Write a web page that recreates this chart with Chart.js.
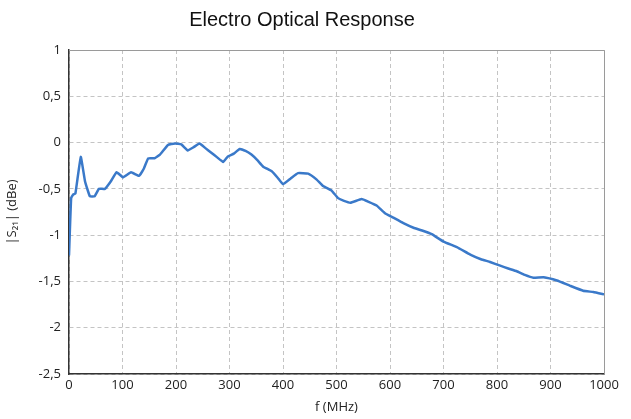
<!DOCTYPE html>
<html>
<head>
<meta charset="utf-8">
<script src="https://cdn.jsdelivr.net/npm/chart.js@4"></script>
<style>
  html, body { margin: 0; padding: 0; background: #fff; }
  #wrap { width: 631px; height: 419px; }
</style>
</head>
<body>
<div id="wrap"><canvas id="chart" width="631" height="419"></canvas></div>
<script>
// frequency (MHz) and |S21| (dBe)
const freq = [0, 4, 8, 12, 22, 30, 39, 48, 56, 67, 78, 89, 101, 116, 131, 140, 148, 160, 170, 185,
    198, 210, 222, 233, 244, 255, 266, 277, 288, 297, 308, 319, 330, 341, 352, 363, 379, 390, 400, 414,
    428, 447, 463, 475, 491, 503, 514, 526, 547, 560, 575, 590, 606, 625, 644, 660, 678, 700, 725, 750,
    770, 787, 806, 821, 837, 852, 868, 887, 912, 936, 961, 980, 1000];
const s21 = [-1.22, -0.6, -0.56, -0.55, -0.155, -0.42, -0.58, -0.58, -0.5, -0.5, -0.42, -0.32, -0.375, -0.32, -0.36, -0.28, -0.17, -0.17, -0.13, -0.025,
    -0.01, -0.02, -0.085, -0.05, -0.01, -0.06, -0.11, -0.16, -0.21, -0.15, -0.12, -0.07, -0.09, -0.13, -0.19, -0.26, -0.31, -0.38, -0.45, -0.39,
    -0.33, -0.335, -0.40, -0.47, -0.52, -0.60, -0.63, -0.65, -0.61, -0.64, -0.68, -0.76, -0.81, -0.87, -0.92, -0.95, -0.99, -1.07, -1.13, -1.21,
    -1.26, -1.29, -1.33, -1.36, -1.39, -1.43, -1.46, -1.455, -1.49, -1.545, -1.60, -1.615, -1.64];

const xTicks = [0, 100, 200, 300, 400, 500, 600, 700, 800, 900, 1000];
const yTicks = [1, 0.5, 0, -0.5, -1, -1.5, -2, -2.5];

const tickFont = { family: 'Open Sans', size: 13 };

// light frame on top and right of the plot
const frame = {
    id: 'frame',
    afterDraw(chart){
        const a = chart.chartArea, c = chart.ctx;
        c.save();
        c.strokeStyle = '#9a9a9a';
        c.lineWidth = 1;
        c.beginPath();
        c.moveTo(a.left, a.top + 0.5);
        c.lineTo(a.right + 0.5, a.top + 0.5);
        c.lineTo(a.right + 0.5, a.bottom);
        c.stroke();
        c.restore();
    }
};

new Chart(document.getElementById('chart'), {
    type: 'line',
    data: {
        datasets: [{
            label: '|S21|',
            data: freq.map((f, i) => ({ x: f, y: s21[i] })),
            borderColor: '#3a79c9',
            borderWidth: 2.5,
            pointRadius: 0,
            tension: 0.1,
            fill: false
        }]
    },
    options: {
        responsive: false,
        animation: false,
        layout: { padding: { top: 8, right: 27, left: 0, bottom: 0 } },
        plugins: {
            legend: { display: false },
            tooltip: { enabled: false },
            title: {
                display: true,
                text: 'Electro Optical Response',
                color: '#111',
                font: { family: 'Liberation Sans', size: 20, weight: 'normal' },
                padding: { top: 0, bottom: 18 }
            }
        },
        scales: {
            x: {
                type: 'linear',
                min: 0, max: 1000,
                afterBuildTicks(s){ s.ticks = xTicks.map(v => ({ value: v })); },
                afterFit(s){ s.height = 45; },
                ticks: { color: '#222', font: tickFont, padding: 3, maxRotation: 0, callback: v => String(v) },
                grid: { color: '#c4c4c4', drawTicks: false, tickLength: 0 },
                border: { color: '#333', width: 1.5, dash: [4, 3] },
                title: { display: true, text: 'f (MHz)', color: '#222', font: tickFont, padding: { top: 0 } }
            },
            y: {
                min: -2.5, max: 1,
                afterBuildTicks(s){ s.ticks = yTicks.map(v => ({ value: v })); },
                afterFit(s){ s.width = 69; },
                ticks: {
                    color: '#222', font: tickFont, padding: 8,
                    callback: v => String(v).replace('.', ',')
                },
                grid: { color: '#c4c4c4', drawTicks: false, tickLength: 0 },
                border: { color: '#333', width: 1.5, dash: [4, 3] },
                title: { display: true, text: '|S₂₁| (dBe)', color: '#222', font: tickFont, padding: { bottom: 2 } }
            }
        }
    },
    plugins: [frame]
});
</script>
</body>
</html>
